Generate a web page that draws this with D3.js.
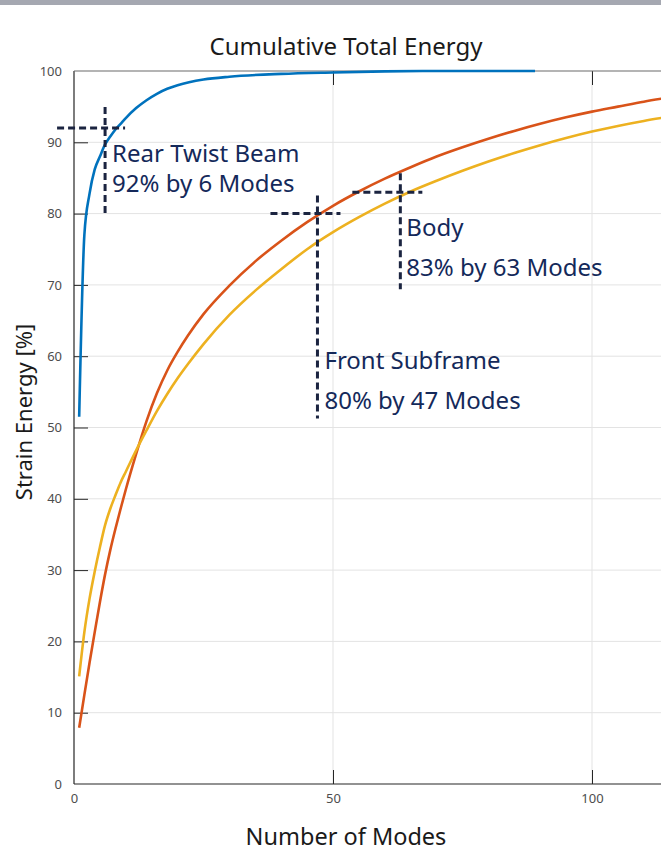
<!DOCTYPE html>
<html>
<head>
<meta charset="utf-8">
<script src="https://cdn.jsdelivr.net/npm/d3@7"></script>
<style>
  html, body { margin: 0; padding: 0; background: #fff; }
  svg { display: block; }
</style>
</head>
<body>
<div id="chart"></div>
<script>
// Cumulative strain energy per component vs. number of retained modes
const rearModes = [1,2,3,4,5,6,7,8,9,10,12,14,16,18,20,25,30,40,50,60,70,80,89];
const rearValues = [51.5,77,82.8,86.2,88.0,89.7,90.8,91.8,92.6,93.4,94.8,95.9,96.8,97.5,98.0,98.8,99.2,99.6,99.8,99.95,100,100,100];

const frontModes = [1,2,3,4,5,6,7,8,9,10,12,14,16,18,20,22,25,30,35,40,45,50,55,60,65,70,75,80,85,90,95,100,105,110,115];
const frontValues = [7.9,12.5,17,21.3,25.5,29.4,32.8,35.8,38.6,41.3,46.3,50.9,54.8,58.0,60.6,62.9,65.9,69.9,73.3,76.2,78.8,81.1,83.1,84.9,86.5,88.0,89.3,90.5,91.6,92.6,93.5,94.3,95.0,95.7,96.3];

const bodyModes = [1,2,3,4,5,6,7,8,9,10,12,14,16,18,20,22,25,30,35,40,45,50,55,60,65,70,75,80,85,90,95,100,105,110,115];
const bodyValues = [15.1,21.3,26,29.8,33.2,36.3,38.6,40.5,42.3,43.8,46.8,49.6,52.3,54.7,56.9,58.9,61.7,65.8,69.2,72.2,75.0,77.4,79.5,81.4,83.1,84.6,86.0,87.3,88.5,89.6,90.6,91.5,92.3,93.0,93.6];

const seriesNames = ["Rear Twist Beam", "Front Subframe", "Body"];
const seriesColors = ["#0072bd", "#d95319", "#edb120"];

const xTicks = [0, 50, 100];
const yTicks = [0,10,20,30,40,50,60,70,80,90,100];

// Annotated thresholds: component, modes needed, energy reached
const noteNames = ["Rear Twist Beam", "Front Subframe", "Body"];
const noteModes = [6, 47, 63];
const notePercents = [92, 80, 83];

// Crosshair arm lengths and label offsets (px) for each note
const noteLayout = [
  { left: 48, right: 20, up: 21, down: 85, dx: 7, dy1: 34, dy2: 64 },
  { left: 47, right: 23, up: 18, down: 205, dx: 7, dy1: 155, dy2: 195 },
  { left: 48, right: 22, up: 19, down: 97, dx: 6, dy1: 44, dy2: 84 }
];

const W = 661, H = 851;
const plot = { left: 74, top: 71, bottom: 784, right: 661 };

const svg = d3.select("#chart").append("svg")
  .attr("width", W).attr("height", H)
  .style("font-family", "'Noto Sans', 'Open Sans', sans-serif");

// header band
svg.append("rect").attr("x", 0).attr("y", 0).attr("width", W).attr("height", 5).attr("fill", "#a5a8b1");

const x = d3.scaleLinear().domain([0, 120]).range([plot.left, plot.left + 120 * 5.18]);
const y = d3.scaleLinear().domain([0, 100]).range([plot.bottom, plot.top]);

// grid
const grid = svg.append("g");
grid.selectAll("line.gy").data(yTicks.filter(d => d > 0 && d < 100)).enter().append("line")
  .attr("x1", plot.left).attr("x2", W)
  .attr("y1", d => y(d)).attr("y2", d => y(d))
  .attr("stroke", "#e3e3e3").attr("stroke-width", 1);
grid.selectAll("line.gx").data(xTicks.filter(d => d > 0)).enter().append("line")
  .attr("x1", d => x(d)).attr("x2", d => x(d))
  .attr("y1", plot.top).attr("y2", plot.bottom)
  .attr("stroke", "#e3e3e3").attr("stroke-width", 1);

// axes
const axisColor = "#262626";
const yAxis = d3.axisLeft(y).tickValues(yTicks).tickSize(-14).tickPadding(12);
const gy = svg.append("g").attr("transform", `translate(${plot.left},0)`).call(yAxis);
const xAxis = d3.axisBottom(x).tickValues(xTicks).tickSize(-14).tickPadding(10);
const gx = svg.append("g").attr("transform", `translate(0,${plot.bottom})`).call(xAxis);
const xTop = d3.axisTop(x).tickValues(xTicks.filter(d => d > 0)).tickSize(-14).tickFormat("");
const gt = svg.append("g").attr("transform", `translate(0,${plot.top})`).call(xTop);

[gx, gy, gt].forEach(g => {
  g.select(".domain").remove();
  g.selectAll(".tick line").attr("stroke", axisColor).attr("stroke-width", 1);
  g.selectAll(".tick text").attr("fill", "#4d4d4d").style("font-size", "13px")
    .style("font-family", "'Noto Sans', sans-serif");
});
gy.selectAll(".tick").filter(d => d === 0 || d === 100).select("line").remove();
gx.selectAll(".tick").filter(d => d === 0).select("line").remove();

svg.append("line").attr("x1", plot.left).attr("x2", plot.left).attr("y1", plot.top).attr("y2", plot.bottom)
  .attr("stroke", axisColor).attr("stroke-width", 1.2);
svg.append("line").attr("x1", plot.left).attr("x2", W).attr("y1", plot.bottom).attr("y2", plot.bottom)
  .attr("stroke", axisColor).attr("stroke-width", 1.2);
svg.append("line").attr("x1", plot.left).attr("x2", W).attr("y1", plot.top).attr("y2", plot.top)
  .attr("stroke", "#6b6b6b").attr("stroke-width", 1.2);

// curves
const line = d3.line().x(d => x(d[0])).y(d => y(d[1])).curve(d3.curveMonotoneX);
const series = [
  d3.zip(rearModes, rearValues),
  d3.zip(frontModes, frontValues),
  d3.zip(bodyModes, bodyValues)
];
svg.append("g").selectAll("path").data(series).enter().append("path")
  .attr("d", line)
  .attr("fill", "none")
  .attr("stroke", (d, i) => seriesColors[i])
  .attr("stroke-width", 2.6)
  .attr("stroke-linejoin", "round");

// threshold crosshairs and labels
const noteColor = "#1b2440";
const textColor = "#14295a";
const notes = svg.append("g");
noteNames.forEach((name, i) => {
  const cx = x(noteModes[i]), cy = y(notePercents[i]);
  const L = noteLayout[i];
  notes.append("line").attr("x1", cx - L.left).attr("x2", cx + L.right).attr("y1", cy).attr("y2", cy)
    .attr("stroke", noteColor).attr("stroke-width", 3).attr("stroke-dasharray", "7,4");
  notes.append("line").attr("x1", cx).attr("x2", cx).attr("y1", cy - L.up).attr("y2", cy + L.down)
    .attr("stroke", noteColor).attr("stroke-width", 3).attr("stroke-dasharray", "7,4");
  notes.append("text").attr("x", cx + L.dx).attr("y", cy + L.dy1)
    .attr("fill", textColor).style("font-size", "24px").text(name);
  notes.append("text").attr("x", cx + L.dx).attr("y", cy + L.dy2)
    .attr("fill", textColor).style("font-size", "24px")
    .text(`${notePercents[i]}% by ${noteModes[i]} Modes`);
});

// titles
svg.append("text").attr("x", 346).attr("y", 55).attr("text-anchor", "middle")
  .attr("fill", "#1a1a1a").style("font-size", "24px").text("Cumulative Total Energy");
svg.append("text").attr("x", 346).attr("y", 845).attr("text-anchor", "middle")
  .attr("fill", "#1a1a1a").style("font-size", "23.5px").text("Number of Modes");
svg.append("text").attr("transform", "translate(32,412) rotate(-90)").attr("text-anchor", "middle")
  .attr("fill", "#1a1a1a").style("font-size", "22px").text("Strain Energy [%]");
</script>
</body>
</html>
